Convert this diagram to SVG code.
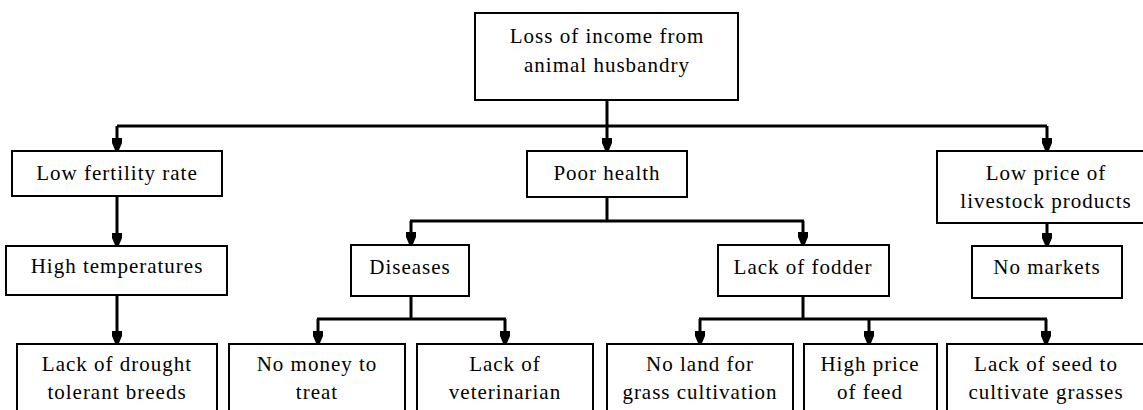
<svg xmlns="http://www.w3.org/2000/svg" width="1143" height="410" viewBox="0 0 1143 410">
<style>
  .box{fill:#fff;stroke:#000;stroke-width:2}
  .lbl{font-family:'Liberation Serif','Times New Roman',serif;font-size:21px;letter-spacing:1px;text-anchor:middle;fill:#000}
  .c{fill:none;stroke:#000;stroke-width:3}
  .a{fill:none;stroke:#000;stroke-width:3;marker-end:url(#ah)}
</style>
<defs>
  <marker id="ah" markerUnits="userSpaceOnUse" viewBox="-13 -6 14 12" markerWidth="14" markerHeight="12" refX="0" refY="0" orient="auto">
    <path d="M-12,-5 L-7,-5 L0,-2 L0,2 L-7,5 L-12,5 Z" fill="#000"/>
  </marker>
</defs>
<rect width="1143" height="410" fill="#fff"/>
<g id="connectors">
  <path class="c" d="M607,100 V126 M117,126 H1047"/>
  <path class="a" d="M117,126 V150"/>
  <path class="a" d="M607,126 V150"/>
  <path class="a" d="M1047,126 V150"/>
  <path class="a" d="M117,196 V245"/>
  <path class="c" d="M607,197 V221 M410,221 H804"/>
  <path class="a" d="M411,221 V244"/>
  <path class="a" d="M803,221 V244"/>
  <path class="a" d="M1047,223 V245"/>
  <path class="a" d="M117,295 V343"/>
  <path class="c" d="M411,296 V319 M317,319 H506"/>
  <path class="a" d="M318,319 V343"/>
  <path class="a" d="M505,319 V343"/>
  <path class="c" d="M803,296 V319 M699,319 H1047"/>
  <path class="a" d="M700,319 V343"/>
  <path class="a" d="M869,319 V343"/>
  <path class="a" d="M1046,319 V343"/>
</g>
<g id="loss">
  <rect class="box" x="475" y="13" width="263" height="87"/>
  <text class="lbl" x="607" y="43">Loss of income from</text>
  <text class="lbl" x="607" y="72">animal husbandry</text>
</g>
<g id="lowfert">
  <rect class="box" x="12" y="151" width="210" height="45"/>
  <text class="lbl" x="117" y="180">Low fertility rate</text>
</g>
<g id="poorhealth">
  <rect class="box" x="527" y="151" width="160" height="46"/>
  <text class="lbl" x="607" y="180">Poor health</text>
</g>
<g id="lowprice">
  <rect class="box" x="937" y="151" width="220" height="72"/>
  <text class="lbl" x="1046" y="180">Low price of</text>
  <text class="lbl" x="1046" y="208">livestock products</text>
</g>
<g id="hightemp">
  <rect class="box" x="6" y="246" width="221" height="49"/>
  <text class="lbl" x="117" y="273">High temperatures</text>
</g>
<g id="diseases">
  <rect class="box" x="351" y="245" width="118" height="51"/>
  <text class="lbl" x="410" y="274">Diseases</text>
</g>
<g id="fodder">
  <rect class="box" x="718" y="245" width="171" height="51"/>
  <text class="lbl" x="803" y="274">Lack of fodder</text>
</g>
<g id="nomarkets">
  <rect class="box" x="972" y="246" width="150" height="52"/>
  <text class="lbl" x="1047" y="274">No markets</text>
</g>
<g id="drought">
  <rect class="box" x="17" y="344" width="200" height="80"/>
  <text class="lbl" x="117" y="371">Lack of drought</text>
  <text class="lbl" x="117" y="399">tolerant breeds</text>
</g>
<g id="nomoney">
  <rect class="box" x="229" y="344" width="176" height="80"/>
  <text class="lbl" x="317" y="371">No money to</text>
  <text class="lbl" x="317" y="399">treat</text>
</g>
<g id="vet">
  <rect class="box" x="417" y="344" width="176" height="80"/>
  <text class="lbl" x="505" y="371">Lack of</text>
  <text class="lbl" x="505" y="399">veterinarian</text>
</g>
<g id="noland">
  <rect class="box" x="607" y="344" width="186" height="80"/>
  <text class="lbl" x="700" y="371">No land for</text>
  <text class="lbl" x="700" y="399">grass cultivation</text>
</g>
<g id="highprice">
  <rect class="box" x="804" y="344" width="133" height="80"/>
  <text class="lbl" x="870" y="371">High price</text>
  <text class="lbl" x="870" y="399">of feed</text>
</g>
<g id="lackseed">
  <rect class="box" x="947" y="344" width="210" height="80"/>
  <text class="lbl" x="1046" y="371">Lack of seed to</text>
  <text class="lbl" x="1046" y="399">cultivate grasses</text>
</g>
</svg>
